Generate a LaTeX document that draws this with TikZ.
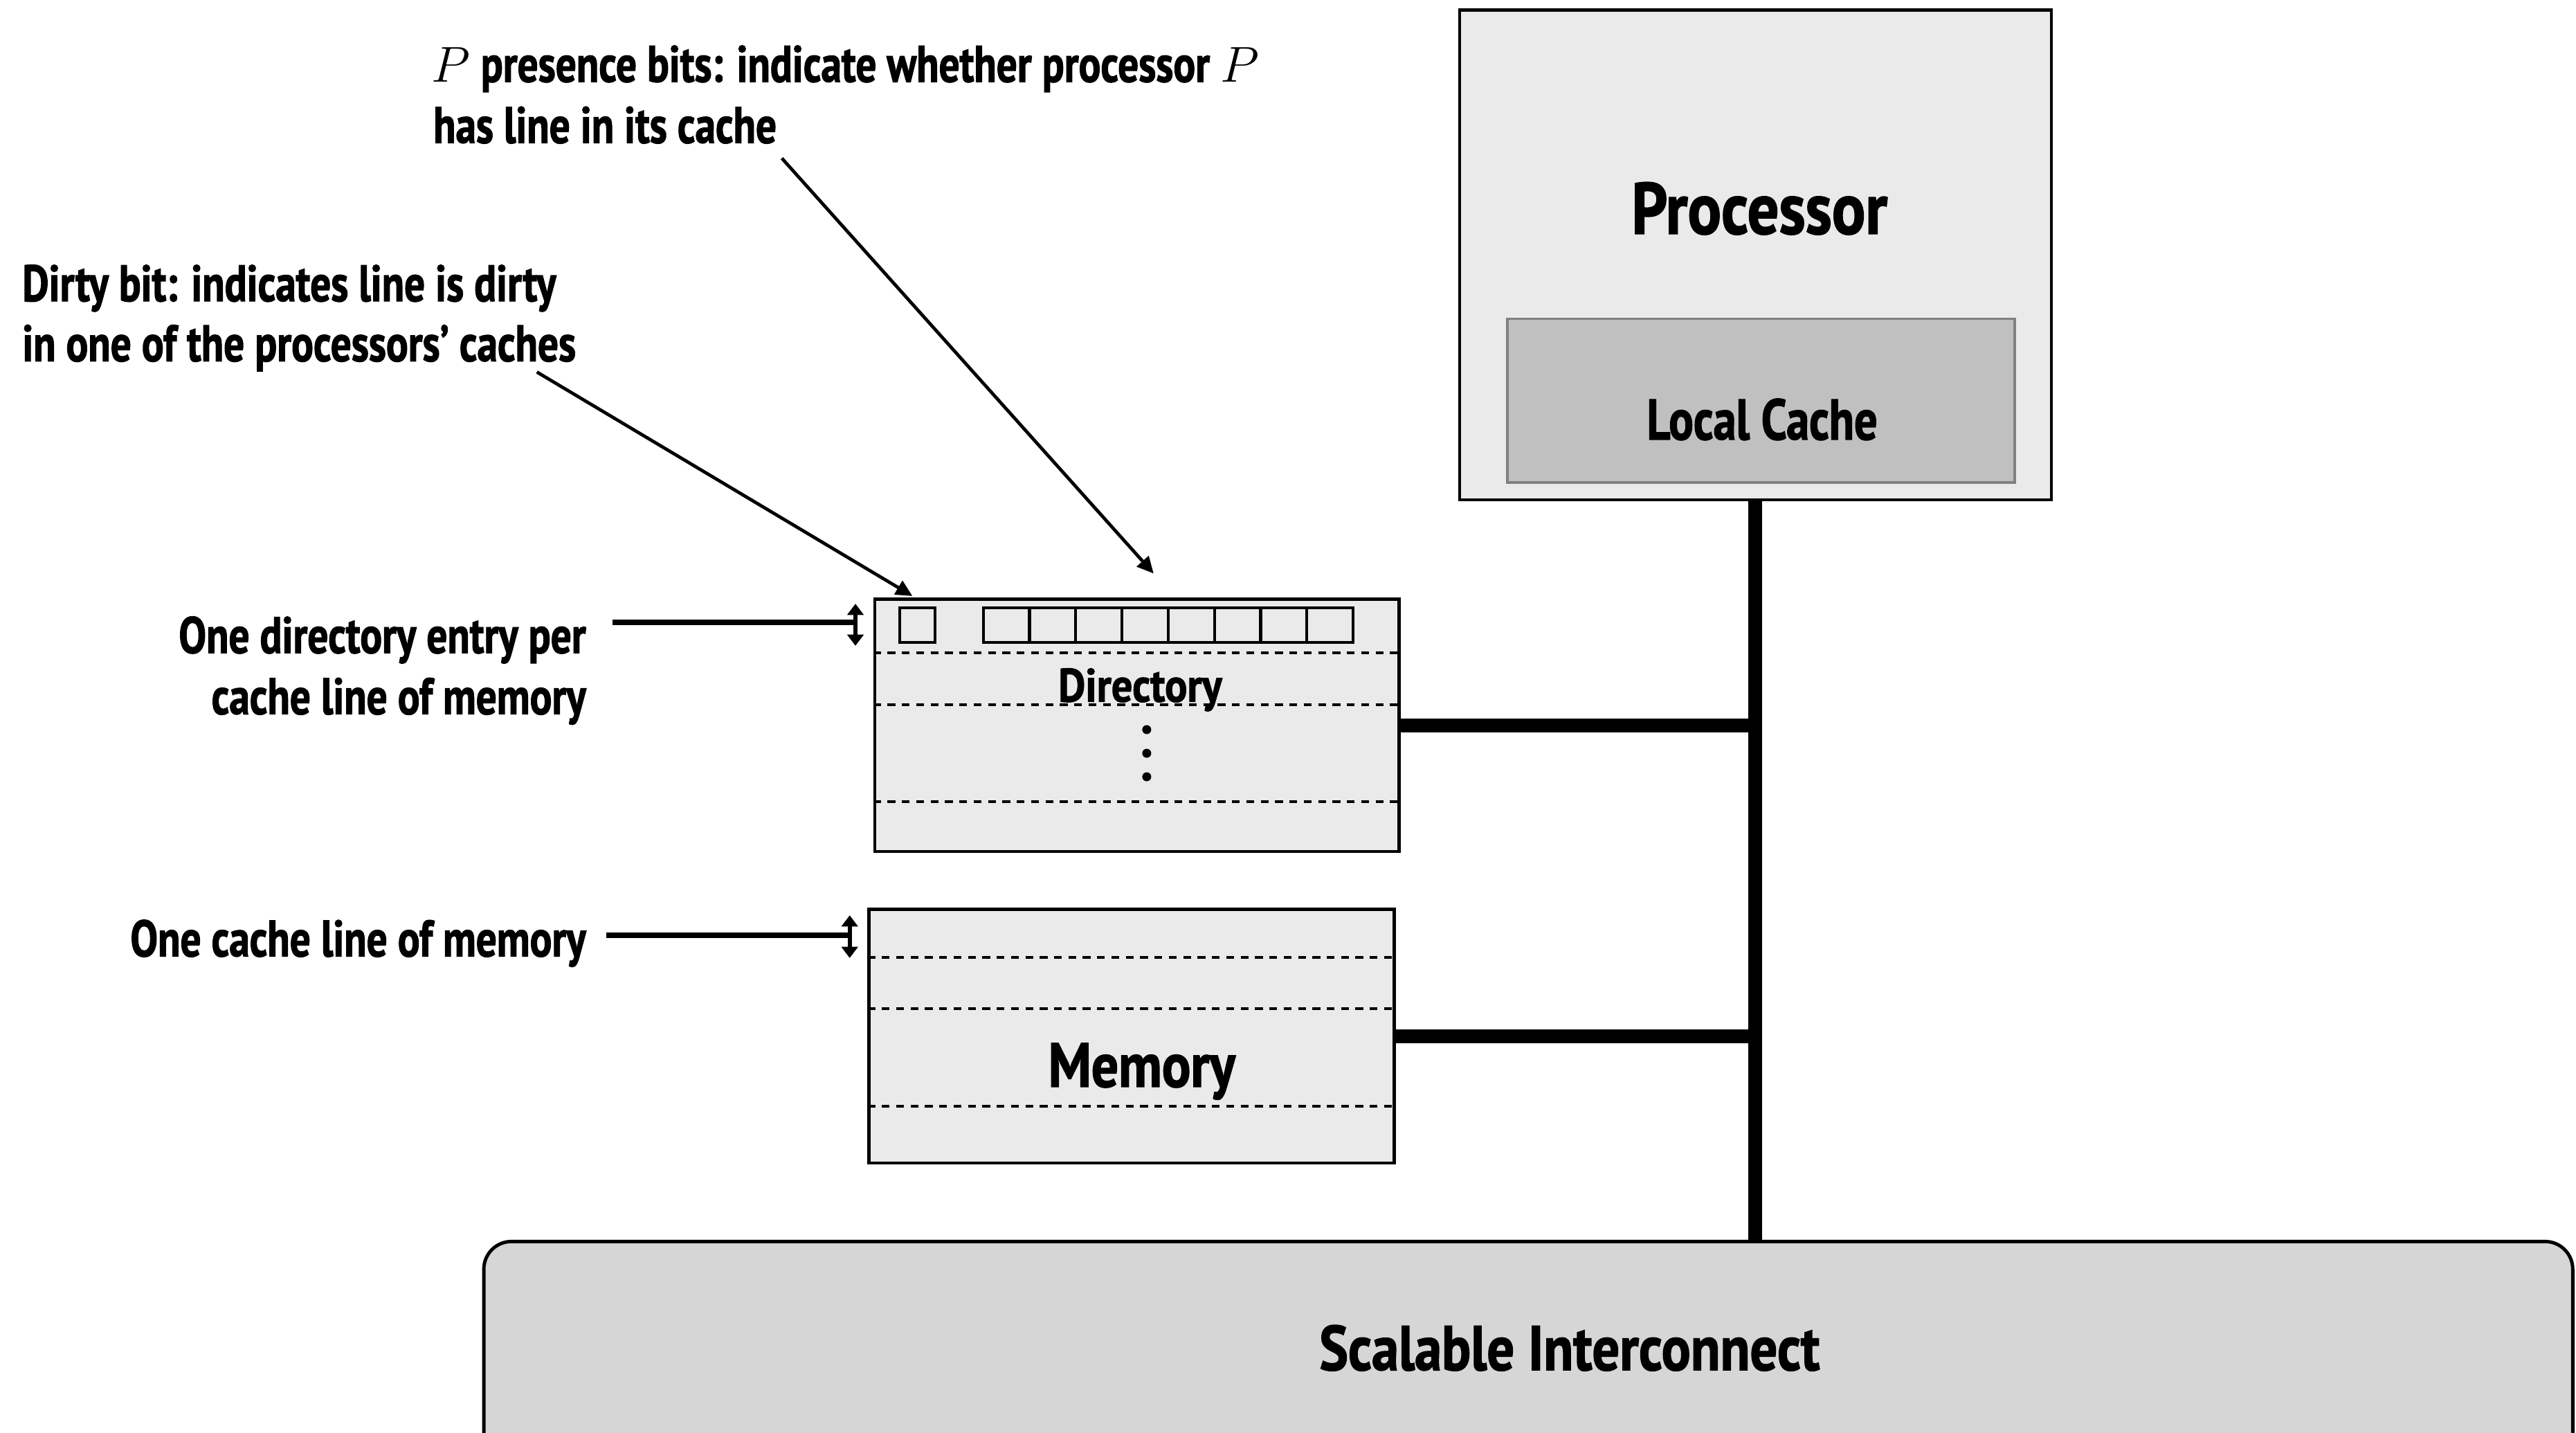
\documentclass[tikz,border=0pt]{standalone}
\usepackage{fontspec}
\setmainfont{PT Sans}[FakeStretch=0.8, BoldFeatures={FakeBold=1.5}]
\newfontfamily\widefont{PT Sans}[FakeStretch=0.86, BoldFeatures={FakeBold=1.5}]
\newfontfamily\widerfont{PT Sans}[FakeStretch=0.89, BoldFeatures={FakeBold=1.5}]
\usetikzlibrary{arrows.meta,fit}
\definecolor{boxgray}{HTML}{EAEAEA}
\definecolor{cachegray}{HTML}{C0C0C0}
\definecolor{cacheedge}{HTML}{808080}
\definecolor{icgray}{HTML}{D6D6D6}
\begin{document}
\begin{tikzpicture}[x=0.23737mm,y=-0.23737mm,
  box/.style={draw=black, line width=1.3pt, fill=boxgray, inner sep=0pt},
  cachebox/.style={draw=cacheedge, line width=1.1pt, fill=cachegray, inner sep=0pt},
  icbox/.style={draw=black, line width=1.4pt, fill=icgray, inner sep=0pt, rounded corners=4mm},
  bitbox/.style={draw=black, line width=1.2pt, inner sep=0pt},
  rowline/.style={line width=1.15pt, dash pattern=on 3.2pt off 2.7pt},
  bus/.style={line width=5.7pt},
  pointer/.style={line width=2.2pt},
  dbl/.style={line width=1.8pt, {Triangle[width=6.6pt,length=4.6pt]}-{Triangle[width=6.6pt,length=4.6pt]}},
  ann/.style={line width=1.35pt, -{Triangle[width=6.4pt,length=6.8pt]}},
  lbl/.style={inner sep=0pt, font=\fontsize{21.1pt}{25pt}\selectfont\bfseries},
  dot/.style={circle, fill=black, inner sep=0pt, minimum size=1.3mm}
]
\useasboundingbox (0,0) rectangle (1568,872);

% interconnect (runs past the bottom and right edges)
\begin{scope}
  \clip (0,0) rectangle (1568,872);
  \node[icbox, fit={(294.5,755.5) (1566,920)}] (ic) {};
\end{scope}
\node[inner sep=0pt, anchor=base, font=\widefont\fontsize{26pt}{30pt}\selectfont\bfseries] (ictext) at (955.4,833.8) {Scalable Interconnect};

% processor
\node[box, fit={(888.4,6.1) (1248.7,304.2)}] (proc) {};
\node[cachebox, fit={(917.4,194) (1226.2,293.5)}] (cache) {};
\node[inner sep=0pt, anchor=base, font=\widefont\fontsize{29.9pt}{34pt}\selectfont\bfseries] (proctext) at (1071,142.3) {Processor};
\node[inner sep=0pt, anchor=base, font=\fontsize{23.6pt}{28pt}\selectfont\bfseries] (cachetext) at (1072.6,267.5) {Local Cache};

% bus
\draw[bus] (proc.south) -- (proc.south |- ic.north);

% directory
\node[box, fit={(532.5,364.7) (851.5,518.2)}] (dir) {};
\draw[bus] (dir.east) -- (dir.east -| proc.south);
\foreach \yy in {397.4,428.9,487.9}
  \draw[rowline] (dir.west |- 0,\yy) -- (dir.east |- 0,\yy);
\node[bitbox, fit={(547.7,370) (569,391)}] (dirty) {};
\foreach \i in {1,...,8}
  \node[bitbox, fit={({598.5+(\i-1)*28.14},370) ({598.5+\i*28.14},391)}] (p\i) {};
\node[inner sep=0pt, anchor=base, font=\widerfont\fontsize{19.3pt}{23pt}\selectfont\bfseries] (dirtext) at (694,427) {Directory};
\node[dot] (d1) at (698,444) {};
\node[dot] (d2) at (698,458.4) {};
\node[dot] (d3) at (698,472.7) {};

% memory
\node[box, fit={(529,553.3) (848.6,707.8)}] (mem) {};
\draw[bus] (mem.east) -- (mem.east -| proc.south);
\foreach \yy in {582.5,613.7,673.3}
  \draw[rowline] (mem.west |- 0,\yy) -- (mem.east |- 0,\yy);
\node[inner sep=0pt, anchor=base, font=\widefont\fontsize{25.7pt}{30pt}\selectfont\bfseries] (memtext) at (695,661.4) {Memory};

% annotations: presence bits
\node[lbl, anchor=base west] (pl1) at (262.5,49.8) {$P$ presence bits: indicate whether processor $P$};
\node[lbl, anchor=base west] (pl2) at (263.5,87) {has line in its cache};
\coordinate (pfrom) at (475.9,96.3);
\coordinate (pto) at (702.2,349);
\draw[ann] (pfrom) -- (pto);

% annotations: dirty bit
\node[lbl, anchor=base west] (dl1) at (13.3,183.3) {Dirty bit: indicates line is dirty};
\node[lbl, anchor=base west] (dl2) at (13.3,219.8) {in one of the processors’ caches};
\coordinate (dfrom) at (326.8,226.4);
\coordinate (dto) at (555.4,362.7);
\draw[ann] (dfrom) -- (dto);

% annotations: directory entry
\node[lbl, anchor=base east] (el1) at (357,397.4) {One directory entry per};
\node[lbl, anchor=base east] (el2) at (357,434.6) {cache line of memory};
\coordinate (etop) at (520.7,367.4);
\coordinate (ebot) at (520.7,393);
\coordinate (efrom) at (373,378.7);
\draw[pointer] (efrom) -- (efrom -| etop);
\draw[dbl] (etop) -- (ebot);

% annotations: memory line
\node[lbl, anchor=base east] (ml1) at (357,582) {One cache line of memory};
\coordinate (mtop) at (517.2,557);
\coordinate (mbot) at (517.2,583);
\coordinate (mfrom) at (369,569.2);
\draw[pointer] (mfrom) -- (mfrom -| mtop);
\draw[dbl] (mtop) -- (mbot);
\end{tikzpicture}
\end{document}
